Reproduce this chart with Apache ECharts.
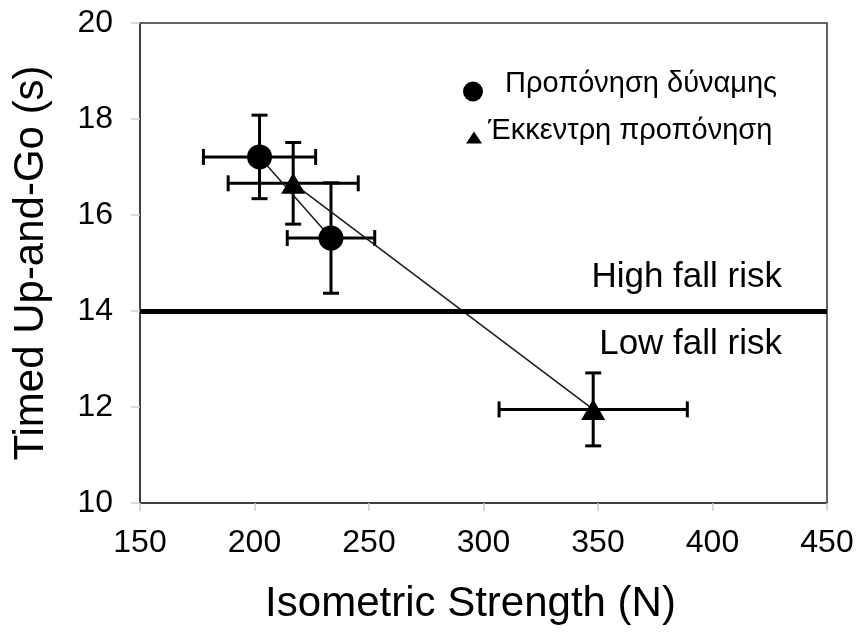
<!DOCTYPE html>
<html>
<head>
<meta charset="utf-8">
<script src="https://cdn.jsdelivr.net/npm/echarts@6/dist/echarts.min.js"></script>
<style>
  html, body { margin: 0; padding: 0; background: #fff; }
  #chart { width: 859px; height: 632px; }
</style>
</head>
<body>
<div id="chart"></div>
<script>
// Group names (legend)
const strengthGroupName = 'Προπόνηση δύναμης';
const eccentricGroupName = 'Έκκεντρη προπόνηση';

// Strength training: mean isometric strength (N) and TUG time (s), with SD
const strengthX = [202.2, 233.4];
const strengthY = [17.21, 15.52];
const strengthXErr = [24.5, 19.1];
const strengthYErr = [0.87, 1.15];

// Eccentric training
const eccentricX = [216.9, 347.9];
const eccentricY = [16.66, 11.95];
const eccentricXErr = [28.4, 41.1];
const eccentricYErr = [0.85, 0.76];

// Fall-risk cut-off (s)
const fallRiskThreshold = 14;
const riskLabels = ['High fall risk', 'Low fall risk'];

const FONT = '"Liberation Sans", Arial, Helvetica, sans-serif';

const points = (xs, ys) => xs.map((x, i) => [x, ys[i]]);
const errRows = (xs, ys, exs, eys) => xs.map((x, i) => [x, ys[i], exs[i], eys[i]]);

const errorBarData = errRows(strengthX, strengthY, strengthXErr, strengthYErr)
  .concat(errRows(eccentricX, eccentricY, eccentricXErr, eccentricYErr));

function renderErrorBars(params, api) {
  const x = api.value(0), y = api.value(1), ex = api.value(2), ey = api.value(3);
  const l = api.coord([x - ex, y]);
  const r = api.coord([x + ex, y]);
  const t = api.coord([x, y + ey]);
  const b = api.coord([x, y - ey]);
  const cap = 8;
  const style = { stroke: '#000', lineWidth: 3, fill: null };
  const seg = (x1, y1, x2, y2) => ({ type: 'line', shape: { x1, y1, x2, y2 }, style });
  return {
    type: 'group',
    children: [
      seg(l[0], l[1], r[0], r[1]),
      seg(l[0], l[1] - cap, l[0], l[1] + cap),
      seg(r[0], r[1] - cap, r[0], r[1] + cap),
      seg(t[0], t[1], b[0], b[1]),
      seg(t[0] - cap, t[1], t[0] + cap, t[1]),
      seg(b[0] - cap, b[1], b[0] + cap, b[1])
    ]
  };
}

const chart = echarts.init(document.getElementById('chart'), null, { renderer: 'canvas' });

// Legend text sits a little above its marker and is pushed right by `left`
const legendText = (raise, left) => ({
  formatter: '{t|{name}}',
  textStyle: {
    rich: {
      t: { fontFamily: FONT, fontSize: 29, color: '#000', padding: [0, 0, raise * 2, left] }
    }
  }
});

chart.setOption({
  animation: false,
  backgroundColor: '#fff',
  textStyle: { fontFamily: FONT, color: '#000' },
  grid: {
    left: 140, right: 32, top: 23, bottom: 129,
    show: true, borderColor: '#333', borderWidth: 1.5, backgroundColor: 'transparent'
  },
  legend: [
    Object.assign({
      data: [{ name: strengthGroupName, icon: 'circle' }],
      left: 463, top: 69, padding: 0,
      itemWidth: 20, itemHeight: 20,
      selectedMode: false
    }, legendText(8, 17)),
    Object.assign({
      data: [{ name: eccentricGroupName, icon: 'triangle' }],
      left: 466, top: 116, padding: 0,
      itemWidth: 16, itemHeight: 12,
      selectedMode: false
    }, legendText(7, 1))
  ],
  xAxis: {
    type: 'value', min: 150, max: 450, interval: 50,
    name: 'Isometric Strength (N)', nameLocation: 'middle', nameGap: 80,
    nameTextStyle: { fontFamily: FONT, fontSize: 42, color: '#000', padding: [0, 26, 0, 0] },
    axisLine: { show: true, lineStyle: { color: '#333', width: 1.5 } },
    axisTick: { show: true, length: 8, lineStyle: { color: '#ccc', width: 1.5 } },
    axisLabel: { fontFamily: FONT, fontSize: 32, color: '#000', margin: 24 },
    splitLine: { show: false }
  },
  yAxis: {
    type: 'value', min: 10, max: 20, interval: 2,
    name: 'Timed Up-and-Go (s)', nameLocation: 'middle', nameGap: 88,
    nameTextStyle: { fontFamily: FONT, fontSize: 42, color: '#000' },
    axisLine: { show: true, lineStyle: { color: '#333', width: 1.5 } },
    axisTick: { show: true, length: 9, lineStyle: { color: '#ccc', width: 1.5 } },
    axisLabel: { fontFamily: FONT, fontSize: 32, color: '#000', margin: 27 },
    splitLine: { show: false }
  },
  series: [
    {
      type: 'custom',
      name: 'error bars',
      renderItem: renderErrorBars,
      data: errorBarData,
      encode: { x: 0, y: 1 },
      z: 1,
      silent: true
    },
    {
      type: 'line',
      name: strengthGroupName,
      data: points(strengthX, strengthY),
      symbol: 'circle',
      symbolSize: 25,
      lineStyle: { color: '#1a1a1a', width: 1.5 },
      itemStyle: { color: '#000' },
      z: 3,
      markLine: {
        silent: true,
        symbol: 'none',
        animation: false,
        data: [
          {
            yAxis: fallRiskThreshold,
            lineStyle: { color: '#000', width: 5, type: 'solid' },
            label: {
              show: true, formatter: riskLabels[0], position: 'insideEndTop',
              distance: [45, 16], fontFamily: FONT, fontSize: 35, color: '#000'
            }
          },
          {
            yAxis: fallRiskThreshold,
            lineStyle: { color: 'rgba(0,0,0,0)', width: 1, type: 'solid' },
            label: {
              show: true, formatter: riskLabels[1], position: 'insideEndBottom',
              distance: [45, 16], fontFamily: FONT, fontSize: 35, color: '#000'
            }
          }
        ]
      }
    },
    {
      type: 'line',
      name: eccentricGroupName,
      data: points(eccentricX, eccentricY),
      symbol: 'triangle',
      symbolSize: [24, 21],
      lineStyle: { color: '#1a1a1a', width: 1.5 },
      itemStyle: { color: '#000' },
      z: 3
    }
  ]
});
</script>
</body>
</html>
